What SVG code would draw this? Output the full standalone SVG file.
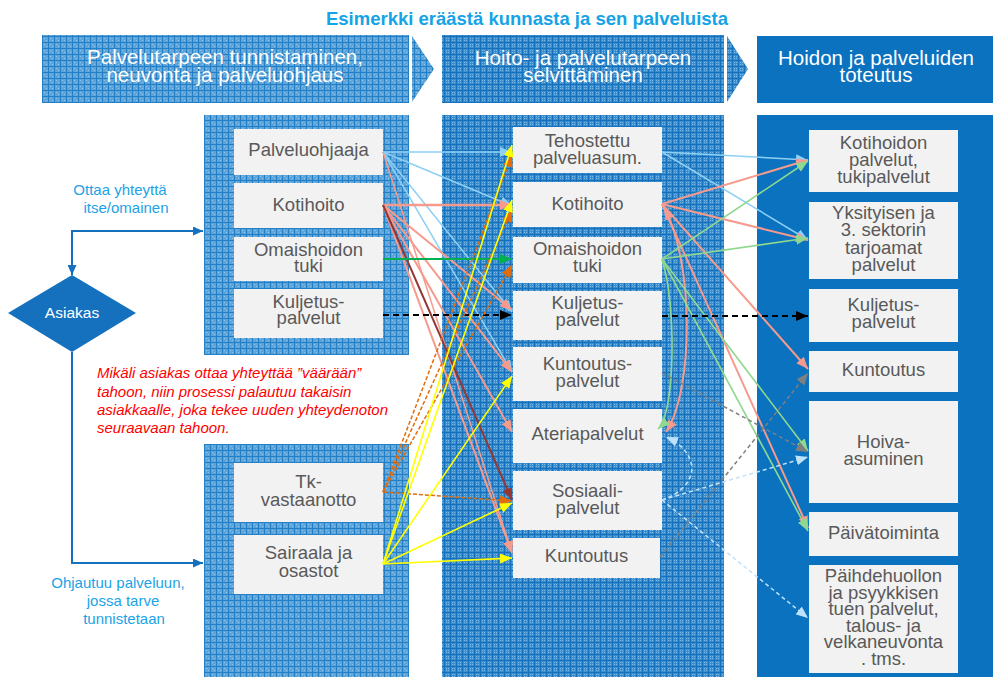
<svg xmlns="http://www.w3.org/2000/svg" width="993" height="677" viewBox="0 0 993 677">
  <defs>
    <!-- textured blue fills for the phase lanes -->
    <pattern id="gridL" width="6" height="6" patternUnits="userSpaceOnUse">
      <rect width="6" height="6" fill="#5ca4da"/>
      <rect width="6" height="1" fill="#237fc6"/>
      <rect width="1" height="6" fill="#237fc6"/>
      <rect x="2" y="2" width="1" height="1" fill="#8fc5ea"/>
      <rect x="4" y="4" width="1" height="1" fill="#8fc5ea"/>
    </pattern>
    <pattern id="gridM" width="6" height="6" patternUnits="userSpaceOnUse">
      <rect width="6" height="6" fill="#3c8dcd"/>
      <rect width="6" height="1" fill="#1571bb"/>
      <rect width="1" height="6" fill="#1571bb"/>
      <rect x="2" y="2" width="1" height="1" fill="#7ab8e5"/>
      <rect x="4" y="2" width="1" height="1" fill="#7ab8e5"/>
      <rect x="2" y="4" width="1" height="1" fill="#7ab8e5"/>
      <rect x="4" y="4" width="1" height="1" fill="#7ab8e5"/>
    </pattern>

    <!-- arrowheads -->
    <marker id="m-lb" viewBox="0 0 12 10" refX="12" refY="5" markerWidth="12" markerHeight="10" markerUnits="userSpaceOnUse" orient="auto"><path d="M0,0L12,5L0,10z" fill="#8dd0f6"/></marker>
    <marker id="m-sa" viewBox="0 0 12 10" refX="12" refY="5" markerWidth="12" markerHeight="10" markerUnits="userSpaceOnUse" orient="auto"><path d="M0,0L12,5L0,10z" fill="#f59a8c"/></marker>
    <marker id="m-sa-s" viewBox="0 0 12 10" refX="12" refY="5" markerWidth="12" markerHeight="10" markerUnits="userSpaceOnUse" orient="auto-start-reverse"><path d="M0,0L12,5L0,10z" fill="#f59a8c"/></marker>
    <marker id="m-gr" viewBox="0 0 12 10" refX="12" refY="5" markerWidth="12" markerHeight="10" markerUnits="userSpaceOnUse" orient="auto"><path d="M0,0L12,5L0,10z" fill="#00b050"/></marker>
    <marker id="m-lg" viewBox="0 0 12 10" refX="12" refY="5" markerWidth="12" markerHeight="10" markerUnits="userSpaceOnUse" orient="auto"><path d="M0,0L12,5L0,10z" fill="#8fd88f"/></marker>
    <marker id="m-ye" viewBox="0 0 12 10" refX="12" refY="5" markerWidth="12" markerHeight="10" markerUnits="userSpaceOnUse" orient="auto"><path d="M0,0L12,5L0,10z" fill="#ffff00"/></marker>
    <marker id="m-or" viewBox="0 0 12 10" refX="12" refY="5" markerWidth="12" markerHeight="10" markerUnits="userSpaceOnUse" orient="auto"><path d="M0,0L12,5L0,10z" fill="#e46c0a"/></marker>
    <marker id="m-ma" viewBox="0 0 12 10" refX="12" refY="5" markerWidth="12" markerHeight="10" markerUnits="userSpaceOnUse" orient="auto"><path d="M0,0L12,5L0,10z" fill="#943634"/></marker>
    <marker id="m-bk" viewBox="0 0 12 10" refX="12" refY="5" markerWidth="12" markerHeight="10" markerUnits="userSpaceOnUse" orient="auto"><path d="M0,0L12,5L0,10z" fill="#000000"/></marker>
    <marker id="m-gy" viewBox="0 0 12 10" refX="12" refY="5" markerWidth="12" markerHeight="10" markerUnits="userSpaceOnUse" orient="auto"><path d="M0,0L12,5L0,10z" fill="#7f7f7f"/></marker>
    <marker id="m-pb" viewBox="0 0 12 10" refX="12" refY="5" markerWidth="12" markerHeight="10" markerUnits="userSpaceOnUse" orient="auto"><path d="M0,0L12,5L0,10z" fill="#bfe2fb"/></marker>
    <marker id="m-fl" viewBox="0 0 10 9" refX="10" refY="4.5" markerWidth="10" markerHeight="9" markerUnits="userSpaceOnUse" orient="auto"><path d="M0,0L10,4.5L0,9z" fill="#1571be"/></marker>
    <marker id="m-fl-s" viewBox="0 0 10 9" refX="10" refY="4.5" markerWidth="10" markerHeight="9" markerUnits="userSpaceOnUse" orient="auto-start-reverse"><path d="M0,0L10,4.5L0,9z" fill="#1571be"/></marker>
  </defs>

  <style>
    text { font-family: "Liberation Sans", Arial, sans-serif; }
    .title { font-size: 18.5px; font-weight: bold; fill: #14a3e6; text-anchor: middle; }
    .head { font-size: 20.5px; fill: #ffffff; text-anchor: middle; }
    .box { fill: #f2f2f2; }
    .lbl { font-size: 18.5px; fill: #595959; text-anchor: middle; }
    .note { font-size: 15px; fill: #1ba3e6; text-anchor: middle; }
    .warn { font-size: 15px; font-style: italic; fill: #ff0000; }
    .flow { fill: none; stroke: #1571be; stroke-width: 2; }
    .c { fill: none; }
    .lb { stroke: #8dd0f6; stroke-width: 1.5; marker-end: url(#m-lb); }
    .sa { stroke: #f59a8c; stroke-width: 2; marker-end: url(#m-sa); }
    .gr { stroke: #00b050; stroke-width: 1.8; marker-end: url(#m-gr); }
    .lg { stroke: #8fd88f; stroke-width: 1.6; marker-end: url(#m-lg); }
    .ye { stroke: #ffff00; stroke-width: 1.6; marker-end: url(#m-ye); }
    .or { stroke: #e46c0a; stroke-width: 1.5; stroke-dasharray: 4 2; marker-end: url(#m-or); }
    .ma { stroke: #943634; stroke-width: 2; marker-end: url(#m-ma); }
    .bk { stroke: #000000; stroke-width: 2; stroke-dasharray: 6 4; marker-end: url(#m-bk); }
    .gy { stroke: #7f7f7f; stroke-width: 1.5; stroke-dasharray: 4 3; marker-end: url(#m-gy); }
    .pb { stroke: #bfe2fb; stroke-width: 1.5; stroke-dasharray: 4 3; marker-end: url(#m-pb); }
  </style>

  <rect width="993" height="677" fill="#ffffff"/>

  <text class="title" x="527" y="25">Esimerkki eräästä kunnasta ja sen palveluista</text>

  <!-- phase headers and lanes -->
  <g id="lanes">
    <rect x="42" y="35" width="367" height="68" fill="url(#gridL)"/>
    <polygon points="412,36 434,69 412,102" fill="url(#gridL)"/>
    <text class="head" x="225" y="64">Palvelutarpeen tunnistaminen,<tspan x="225" dy="18">neuvonta ja palveluohjaus</tspan></text>

    <rect x="442" y="35" width="282" height="68" fill="url(#gridM)"/>
    <polygon points="727,36 748,69 727,102" fill="url(#gridM)"/>
    <text class="head" x="583" y="65">Hoito- ja palvelutarpeen<tspan x="583" dy="17">selvittäminen</tspan></text>

    <rect x="757" y="36" width="236" height="67" fill="#0a72bf"/>
    <text class="head" x="876" y="65">Hoidon ja palveluiden<tspan x="876" dy="17">toteutus</tspan></text>

    <rect x="204" y="115" width="205" height="240" fill="url(#gridL)"/>
    <rect x="204" y="444" width="205" height="233" fill="url(#gridL)"/>
    <rect x="442" y="115" width="282" height="562" fill="url(#gridM)"/>
    <rect x="757" y="115" width="236" height="562" fill="#0a72bf"/>
  </g>

  <!-- client and entry paths -->
  <g id="n-asiakas">
    <polygon points="72,275 136,313 72,352 8,313" fill="#1571be"/>
    <text x="72" y="318" font-size="15.5" fill="#ffffff" text-anchor="middle">Asiakas</text>
  </g>
  <g id="flow">
    <path class="flow" d="M72,275 V231 H203" marker-start="url(#m-fl-s)" marker-end="url(#m-fl)"/>
    <path class="flow" d="M72,352 V563 H203" marker-end="url(#m-fl)"/>
  </g>
  <text class="note" x="120" y="195">Ottaa yhteyttä</text>
  <text class="note" x="126" y="213">itse/omainen</text>
  <text class="note" x="118" y="588">Ohjautuu palveluun,</text>
  <text class="note" x="123" y="606">jossa tarve</text>
  <text class="note" x="124" y="624">tunnistetaan</text>

  <text class="warn" x="97" y="378">Mikäli asiakas ottaa yhteyttää ”väärään”</text>
  <text class="warn" x="97" y="397">tahoon, niin prosessi palautuu takaisin</text>
  <text class="warn" x="97" y="415">asiakkaalle, joka tekee uuden yhteydenoton</text>
  <text class="warn" x="97" y="433">seuraavaan tahoon.</text>

  <!-- first phase nodes -->
  <g id="n-palveluohjaaja"><rect class="box" x="234" y="129" width="149" height="46"/><text class="lbl" x="308.5" y="156">Palveluohjaaja</text></g>
  <g id="n-kotihoito-1"><rect class="box" x="234" y="183" width="149" height="45"/><text class="lbl" x="308.5" y="211">Kotihoito</text></g>
  <g id="n-omaishoito-1"><rect class="box" x="234" y="237" width="149" height="44"/><text class="lbl" x="308.5" y="256">Omaishoidon<tspan x="308.5" dy="15.5">tuki</tspan></text></g>
  <g id="n-kuljetus-1"><rect class="box" x="234" y="289" width="149" height="49"/><text class="lbl" x="308.5" y="308">Kuljetus-<tspan x="308.5" dy="16">palvelut</tspan></text></g>
  <g id="n-tk"><rect class="box" x="234" y="463" width="149" height="59"/><text class="lbl" x="308.5" y="488">Tk-<tspan x="308.5" dy="17.5">vastaanotto</tspan></text></g>
  <g id="n-sairaala"><rect class="box" x="234" y="535" width="149" height="59"/><text class="lbl" x="308.5" y="559">Sairaala ja<tspan x="308.5" dy="17.5">osastot</tspan></text></g>

  <!-- second phase nodes -->
  <g id="n-tehostettu"><rect class="box" x="513" y="127" width="149" height="46"/><text class="lbl" x="587.5" y="147">Tehostettu<tspan x="587.5" dy="16.5">palveluasum.</tspan></text></g>
  <g id="n-kotihoito-2"><rect class="box" x="513" y="182" width="149" height="45"/><text class="lbl" x="587.5" y="210">Kotihoito</text></g>
  <g id="n-omaishoito-2"><rect class="box" x="513" y="237" width="149" height="46"/><text class="lbl" x="587.5" y="255">Omaishoidon<tspan x="587.5" dy="16.5">tuki</tspan></text></g>
  <g id="n-kuljetus-2"><rect class="box" x="513" y="291" width="149" height="49"/><text class="lbl" x="587.5" y="309">Kuljetus-<tspan x="587.5" dy="16.5">palvelut</tspan></text></g>
  <g id="n-kuntoutuspalvelut"><rect class="box" x="513" y="347" width="149" height="54"/><text class="lbl" x="587.5" y="370">Kuntoutus-<tspan x="587.5" dy="16.5">palvelut</tspan></text></g>
  <g id="n-ateria"><rect class="box" x="513" y="409" width="149" height="54"/><text class="lbl" x="587.5" y="440">Ateriapalvelut</text></g>
  <g id="n-sosiaali"><rect class="box" x="513" y="471" width="149" height="59"/><text class="lbl" x="587.5" y="497">Sosiaali-<tspan x="587.5" dy="16.5">palvelut</tspan></text></g>
  <g id="n-kuntoutus-2"><rect class="box" x="513" y="538" width="147" height="40"/><text class="lbl" x="586.5" y="562">Kuntoutus</text></g>

  <!-- third phase nodes -->
  <g id="n-kotihoidon-palvelut"><rect class="box" x="809" y="130" width="149" height="62"/><text class="lbl" x="883.5" y="149">Kotihoidon<tspan x="883.5" dy="17">palvelut,</tspan><tspan x="883.5" dy="17">tukipalvelut</tspan></text></g>
  <g id="n-yksityinen"><rect class="box" x="809" y="202" width="149" height="77"/><text class="lbl" x="883.5" y="219">Yksityisen ja<tspan x="883.5" dy="17.3">3. sektorin</tspan><tspan x="883.5" dy="17.3">tarjoamat</tspan><tspan x="883.5" dy="17.3">palvelut</tspan></text></g>
  <g id="n-kuljetus-3"><rect class="box" x="809" y="289" width="149" height="53"/><text class="lbl" x="883.5" y="311">Kuljetus-<tspan x="883.5" dy="17">palvelut</tspan></text></g>
  <g id="n-kuntoutus-3"><rect class="box" x="809" y="351" width="149" height="41"/><text class="lbl" x="883.5" y="376">Kuntoutus</text></g>
  <g id="n-hoiva"><rect class="box" x="809" y="401" width="149" height="102"/><text class="lbl" x="883.5" y="448">Hoiva-<tspan x="883.5" dy="17">asuminen</tspan></text></g>
  <g id="n-paivatoiminta"><rect class="box" x="809" y="512" width="149" height="44"/><text class="lbl" x="883.5" y="539">Päivätoiminta</text></g>
  <g id="n-paihdehuolto"><rect class="box" x="809" y="565" width="149" height="108"/><text class="lbl" x="883.5" y="582">Päihdehuollon<tspan x="883.5" dy="16.6">ja psyykkisen</tspan><tspan x="883.5" dy="16.6">tuen palvelut,</tspan><tspan x="883.5" dy="16.6">talous- ja</tspan><tspan x="883.5" dy="16.6">velkaneuvonta</tspan><tspan x="883.5" dy="16.6">. tms.</tspan></text></g>

  <!-- connectors between phases -->
  <g id="connectors" class="c">
    <!-- Palveluohjaaja -->
    <line class="c lb" x1="383" y1="152" x2="512" y2="152"/>
    <line class="c lb" x1="383" y1="152" x2="512" y2="206"/>
    <line class="c lb" x1="383" y1="152" x2="512" y2="312"/>
    <line class="c lb" x1="383" y1="152" x2="512" y2="372"/>
    <line class="c sa" x1="383" y1="152" x2="512" y2="553" style="stroke-width:1.5"/>
    <!-- Kotihoito -->
    <line class="c sa" x1="383" y1="205" x2="512" y2="205" style="stroke-width:2.5"/>
    <line class="c sa" x1="383" y1="205" x2="512" y2="310"/>
    <line class="c sa" x1="383" y1="205" x2="512" y2="372"/>
    <line class="c sa" x1="383" y1="205" x2="512" y2="432"/>
    <line class="c sa" x1="383" y1="205" x2="512" y2="553"/>
    <line class="c ma" x1="383" y1="205" x2="512" y2="500"/>
    <!-- Omaishoidon tuki, Kuljetus -->
    <line class="c gr" x1="383" y1="259" x2="512" y2="259"/>
    <line class="c bk" x1="383" y1="315" x2="512" y2="315"/>
    <!-- Tk-vastaanotto -->
    <line class="c or" x1="383" y1="492" x2="512" y2="155"/>
    <line class="c or" x1="383" y1="492" x2="512" y2="210"/>
    <line class="c or" x1="383" y1="492" x2="512" y2="265"/>
    <line class="c or" x1="383" y1="492" x2="512" y2="501"/>
    <!-- Sairaala ja osastot -->
    <line class="c ye" x1="383" y1="564" x2="512" y2="145"/>
    <line class="c ye" x1="383" y1="564" x2="512" y2="200"/>
    <line class="c ye" x1="383" y1="564" x2="512" y2="376"/>
    <line class="c ye" x1="383" y1="564" x2="512" y2="503"/>
    <line class="c ye" x1="383" y1="564" x2="512" y2="558"/>

    <!-- second to third phase -->
    <line class="c lb" x1="662" y1="152" x2="808" y2="160"/>
    <line class="c lb" x1="662" y1="152" x2="808" y2="240"/>
    <line class="c sa" x1="662" y1="204" x2="808" y2="160"/>
    <line class="c sa" x1="662" y1="204" x2="808" y2="240"/>
    <line class="c sa" x1="662" y1="204" x2="808" y2="369"/>
    <line class="c sa" x1="662" y1="204" x2="808" y2="528"/>
    <path class="c sa" d="M664,208 C694,260 694,390 666,432" marker-start="url(#m-sa-s)"/>
    <line class="c lg" x1="662" y1="259" x2="808" y2="161"/>
    <line class="c lg" x1="662" y1="259" x2="808" y2="238"/>
    <line class="c lg" x1="662" y1="259" x2="808" y2="451"/>
    <line class="c lg" x1="662" y1="259" x2="808" y2="531"/>
    <path class="c lg" d="M662,260 C676,300 676,412 658,429"/>
    <line class="c bk" x1="662" y1="316" x2="808" y2="316"/>
    <line class="c gy" x1="662" y1="373" x2="808" y2="452"/>
    <line class="c gy" x1="660" y1="557" x2="808" y2="373"/>
    <line class="c pb" x1="662" y1="500" x2="808" y2="457"/>
    <line class="c pb" x1="662" y1="500" x2="808" y2="618"/>
    <path class="c pb" d="M662,500 C702,486 700,452 666,437"/>
  </g>
</svg>
